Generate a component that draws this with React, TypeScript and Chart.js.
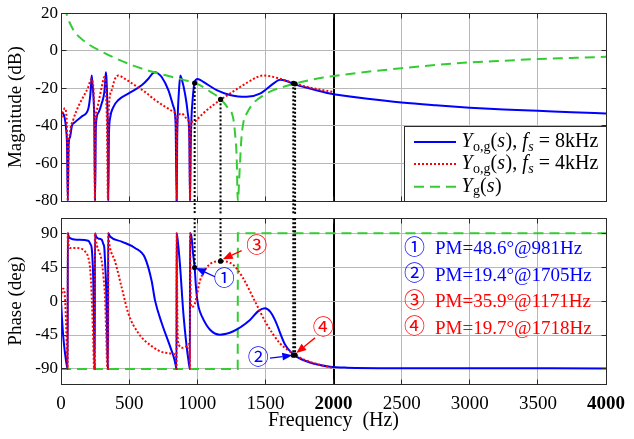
import React, { useEffect, useRef } from 'react';
import { Chart, registerables } from 'chart.js';

Chart.register(...registerables);

const FONT = '"Liberation Serif", "Times New Roman", Times, serif';
const CIRC_FONT = '"Liberation Serif", "Noto Sans CJK JP", "DejaVu Sans", serif';

// ---------- Magnitude (dB) ----------
const magBlueFreq = [0,5,12,20,30,38,44,50,56,66,80,103,152,200,213,220,225,230,237,244,250,256,274,299,318,326,330,334,338,343,347,352,360,384,421,494,592,641,670,690,710,739,788,825,841,849,853,858,866,876,886,910,930,942,947,952,958,964,978,990,1003,1045,1143,1240,1300,1363,1460,1558,1607,1656,1717,1827,1974,2000,2250,2500,2750,3000,3250,3500,3750,4000];
const magBlueVal = [-34,-33,-33,-34,-37,-42,-50,-80,-50,-46,-40,-38,-35,-31,-25,-19,-13.2,-17,-23,-37,-80,-40,-33,-28,-22,-15,-11.4,-15,-23,-40,-80,-45,-36,-30,-26.2,-22.8,-18.4,-14.9,-12.2,-11.4,-12,-14,-21,-29.7,-38.5,-80,-45,-32,-21,-13.2,-15,-22.8,-33,-47,-80,-52,-35,-28,-17.5,-15.5,-15,-16.6,-21,-23.6,-24.3,-24.5,-22.8,-17.5,-15.4,-16.1,-17.9,-20.1,-22.8,-23.1,-25.5,-27.5,-29,-30.3,-31.3,-32,-32.8,-33.4];

const magRedFreq = [0,8,17,28,36,42,47,50,55,66,90,127,164,200,215,225,233,240,245,249,254,262,274,299,318,325,330,337,345,349,352,372,396,421,470,543,616,690,763,825,841,846,849,852,861,886,922,937,943,947,951,959,983,1000,1045,1118,1174,1240,1314,1387,1440,1485,1530,1583,1681,1717,1827,1910,2000];
const magRedVal = [-37.6,-34,-32,-30.6,-32,-38,-55,-80,-55,-43.7,-36.7,-29.7,-24.5,-19.3,-16,-14.9,-17,-22.8,-40,-80,-38,-32,-28,-19.3,-14,-16,-22.8,-38,-80,-40,-29.7,-21,-15,-13.2,-15,-18.4,-21.9,-26.2,-29.7,-32.4,-35,-50,-80,-45,-35,-33.4,-36,-38,-50,-80,-50,-38,-37.6,-36.5,-33.2,-28.9,-25.9,-22.8,-19.3,-16.1,-14,-13.2,-13.5,-14.4,-16.6,-17.5,-19.6,-20.8,-22];

const magGreenFreq = [30,40,55,70,100,140,200,286,400,530,650,776,900,996,1100,1167,1220,1264,1277,1289,1298,1312,1325,1338,1370,1411,1480,1558,1640,1717,1820,1925,2000,2250,2500,2750,3000,3250,3500,3750,4000];
const magGreenVal = [24,20,16.5,14,10,7,3.5,0,-4,-7.9,-10.8,-13.2,-15.5,-17.5,-22,-25.4,-30,-36,-43.7,-56,-80,-62,-46,-38.5,-32.5,-28,-24,-21,-19,-17.5,-15.7,-14.2,-13.5,-11.2,-9.3,-7.6,-6.2,-5.3,-4.4,-3.8,-3.2];

// ---------- Phase (deg) ----------
const phBlueFreq = [0,8,18,30,42,49,50,56,66,120,200,215,225,232,237,241,245,248,249,257,274,299,310,318,325,330,336,341,345,346,360,445,543,616,665,690,739,800,832,845,848,849,860,873,898,922,935,946,947,958,968,981,990,998,1010,1035,1094,1167,1265,1387,1450,1497,1535,1570,1644,1700,1712,1827,1974,2100,2500,4000];
const phBlueVal = [0,-25,-50,-70,-85,-90,90,86,83.5,81.5,80,76,70.5,52,27,-20,-70,-90,90,86,83,81.4,76,70.5,45,27,-20,-70,-90,90,85.7,79,70.5,57.5,27,1,-29,-59.7,-77,-88,-90,90,75,48.8,-16,-60,-78,-90,90,85,65,44.5,20,5,-8,-20.6,-38,-44.5,-40,-25,-13,-9.5,-14,-25,-57.5,-70,-72,-81.4,-87,-88.3,-89,-89.3];

const phRedFreq = [0,8,16,24,32,40,47,49,50,55,66,115,176,200,213,222,230,237,243,248,249,255,262,299,312,323,332,340,346,347,352,360,396,445,494,567,665,763,836,845,848,849,852,856,865,890,920,938,944,946,947,950,953,960,983,1020,1069,1110,1171,1260,1333,1420,1506,1604,1712,1802,1925,2000];
const phRedVal = [5,12,16.5,14,-5,-45,-85,-90,90,76,70.5,70.5,66,58,44.5,20,-16,-55,-90,-90,90,82,74.8,53,32,5.5,-45,-90,-90,90,80,70.5,53,18.4,-16.3,-42.3,-59.7,-68.4,-70.6,-75,-90,90,20,-45,-58,-62,-60,-57,-70,-90,90,30,-5,-8,-3,27,44.5,51,53,48.8,31.5,1,-29.3,-55.4,-70.6,-79,-85.7,-89];

const phGreenFreq = [0,1297,1298,4000];
const phGreenVal = [-90,-90,90,90];

// ---------- Axes ----------
const freqMin = 0, freqMax = 4000, freqStep = 500;
const boldFreqTicks = [2000, 4000];
const magMin = -80, magMax = 20, magStep = 20;
const phaseMin = -110, phaseMax = 110;
const phaseTicks = [-90, -45, 0, 45, 90];

// ---------- Crossover markers & annotations ----------
const crossFreq = [981, 1171, 1705, 1718];
const crossMag = [-17.2, -25.9, -17.3, -17.6];
const crossPhase = [44.5, 53, -71.8, -71.5];

const markLabels = ['①', '②', '③', '④'];
const markColors = ['#0000ff', '#0000ff', '#ff0000', '#ff0000'];
const markLabelFreq = [1198, 1448, 1436, 1925];
const markLabelPhase = [28.4, -75.8, 72.6, -35.8];
const arrowFromFreq = [1130, 1534, 1326, 1864];
const arrowFromPhase = [32.3, -75.8, 67, -48.8];
const arrowToFreq = [990, 1698, 1187, 1727];
const arrowToPhase = [44, -72, 55.5, -69];
const pmTexts = ['PM=48.6°@981Hz', 'PM=19.4°@1705Hz', 'PM=35.9°@1171Hz', 'PM=19.7°@1718Hz'];

const BLUE = '#0000ff';
const RED = '#ff0000';
const GREEN = '#33cc33';
const GRID = '#b8b8b8';
const FRAME = '#2a2a2a';

const toXY = (f: number[], v: number[]) => f.map((x, i) => ({ x, y: v[i] }));

const al = (p: number) => Math.round(p - 0.5) + 0.5;

function drawFrame(chart: any) {
  const { ctx, chartArea, scales } = chart;
  const L = al(chartArea.left), R = al(chartArea.right), T = al(chartArea.top), B = al(chartArea.bottom);
  ctx.save();
  ctx.setLineDash([]);
  ctx.strokeStyle = FRAME;
  ctx.lineWidth = 1;
  ctx.strokeRect(L, T, R - L, B - T);
  const tl = 5;
  ctx.beginPath();
  scales.x.ticks.forEach((t: any) => {
    const px = al(scales.x.getPixelForValue(t.value));
    ctx.moveTo(px, B); ctx.lineTo(px, B - tl);
    ctx.moveTo(px, T); ctx.lineTo(px, T + tl);
  });
  scales.y.ticks.forEach((t: any) => {
    const py = al(scales.y.getPixelForValue(t.value));
    ctx.moveTo(L, py); ctx.lineTo(L + tl, py);
    ctx.moveTo(R, py); ctx.lineTo(R - tl, py);
  });
  ctx.stroke();
  ctx.restore();
}

function drawRich(ctx: CanvasRenderingContext2D, x: number, y: number, parts: [string, boolean, boolean][]) {
  let cx = x;
  parts.forEach(([t, italic, sub]) => {
    ctx.font = `${italic ? 'italic ' : ''}${sub ? 14 : 20}px ${FONT}`;
    ctx.fillText(t, cx, sub ? y + 5 : y);
    cx += ctx.measureText(t).width + (italic && !sub ? 0.5 : 0);
  });
}

const legendRows: { color: string; dash: number[]; parts: [string, boolean, boolean][] }[] = [
  { color: BLUE, dash: [], parts: [['Y', true, false], ['o,g', false, true], ['(', false, false], ['s', true, false], ['), ', false, false], ['f', true, false], ['s', true, true], [' = 8kHz', false, false]] },
  { color: RED, dash: [2, 2], parts: [['Y', true, false], ['o,g', false, true], ['(', false, false], ['s', true, false], ['), ', false, false], ['f', true, false], ['s', true, true], [' = 4kHz', false, false]] },
  { color: GREEN, dash: [10, 6], parts: [['Y', true, false], ['g', false, true], ['(', false, false], ['s', true, false], [')', false, false]] },
];

const magPlugin = {
  id: 'magDecor',
  afterDraw(chart: any) {
    drawFrame(chart);
    const { ctx, chartArea, scales } = chart;
    ctx.save();
    ctx.strokeStyle = '#000';
    ctx.lineWidth = 2;
    ctx.setLineDash([2, 2]);
    crossFreq.forEach((f, i) => {
      const px = scales.x.getPixelForValue(f);
      const py = scales.y.getPixelForValue(crossMag[i]);
      ctx.beginPath();
      ctx.moveTo(px, py);
      ctx.lineTo(px, chart.height);
      ctx.stroke();
    });
    ctx.setLineDash([]);
    ctx.fillStyle = '#000';
    crossFreq.forEach((f, i) => {
      ctx.beginPath();
      ctx.arc(scales.x.getPixelForValue(f), scales.y.getPixelForValue(crossMag[i]), 2.6, 0, Math.PI * 2);
      ctx.fill();
    });
    const bx = Math.round(chartArea.right) - 202;
    const by = Math.round(chartArea.bottom) - 75;
    ctx.fillStyle = '#fff';
    ctx.fillRect(bx, by, 202, 75);
    ctx.strokeStyle = FRAME;
    ctx.lineWidth = 1;
    ctx.strokeRect(bx + 0.5, by + 0.5, 202, 75);
    const rowY = [16, 38, 60.7];
    legendRows.forEach((row, i) => {
      const y = by + rowY[i];
      ctx.strokeStyle = row.color;
      ctx.lineWidth = 2;
      ctx.setLineDash(row.dash);
      ctx.beginPath();
      ctx.moveTo(bx + 10, y);
      ctx.lineTo(bx + 52, y);
      ctx.stroke();
      ctx.setLineDash([]);
      ctx.fillStyle = '#000';
      ctx.textBaseline = 'middle';
      ctx.textAlign = 'left';
      drawRich(ctx, bx + 57.5, y, row.parts);
    });
    ctx.restore();
  },
};

function drawArrow(ctx: CanvasRenderingContext2D, x1: number, y1: number, x2: number, y2: number, color: string) {
  const ang = Math.atan2(y2 - y1, x2 - x1);
  const c = Math.cos(ang), s = Math.sin(ang);
  const L = 10, W = 4;
  ctx.strokeStyle = color;
  ctx.fillStyle = color;
  ctx.lineWidth = 1.3;
  ctx.setLineDash([]);
  ctx.beginPath();
  ctx.moveTo(x1, y1);
  ctx.lineTo(x2 - L * c, y2 - L * s);
  ctx.stroke();
  ctx.beginPath();
  ctx.moveTo(x2, y2);
  ctx.lineTo(x2 - L * c + W * s, y2 - L * s - W * c);
  ctx.lineTo(x2 - L * c - W * s, y2 - L * s + W * c);
  ctx.closePath();
  ctx.fill();
}

const phasePlugin = {
  id: 'phaseDecor',
  afterDraw(chart: any) {
    drawFrame(chart);
    const { ctx, chartArea, scales } = chart;
    ctx.save();
    ctx.strokeStyle = '#000';
    ctx.lineWidth = 2;
    ctx.setLineDash([2, 2]);
    crossFreq.forEach((f, i) => {
      const px = scales.x.getPixelForValue(f);
      const py = scales.y.getPixelForValue(crossPhase[i]);
      ctx.beginPath();
      ctx.moveTo(px, chartArea.top);
      ctx.lineTo(px, py);
      ctx.stroke();
    });
    ctx.setLineDash([]);
    ctx.fillStyle = '#000';
    crossFreq.forEach((f, i) => {
      ctx.beginPath();
      ctx.arc(scales.x.getPixelForValue(f), scales.y.getPixelForValue(crossPhase[i]), 2.6, 0, Math.PI * 2);
      ctx.fill();
    });
    markLabels.forEach((lab, i) => {
      drawArrow(
        ctx,
        scales.x.getPixelForValue(arrowFromFreq[i]), scales.y.getPixelForValue(arrowFromPhase[i]),
        scales.x.getPixelForValue(arrowToFreq[i]), scales.y.getPixelForValue(arrowToPhase[i]),
        markColors[i],
      );
      ctx.font = `21px ${CIRC_FONT}`;
      ctx.fillStyle = markColors[i];
      ctx.textAlign = 'center';
      ctx.textBaseline = 'middle';
      ctx.fillText(lab, scales.x.getPixelForValue(markLabelFreq[i]), scales.y.getPixelForValue(markLabelPhase[i]));
    });
    const x0 = chartArea.right - 202;
    const y0 = chartArea.top + 30;
    markLabels.forEach((lab, i) => {
      const y = y0 + i * 26.5;
      ctx.fillStyle = markColors[i];
      ctx.textAlign = 'left';
      ctx.textBaseline = 'middle';
      ctx.font = `21px ${CIRC_FONT}`;
      ctx.fillText(lab, x0, y);
      ctx.font = `19px ${FONT}`;
      ctx.fillText(pmTexts[i], x0 + 31, y + 1);
    });
    ctx.restore();
  },
};

const xGridColor = (c: any) => (c.tick && c.tick.value === 2000 ? '#000' : GRID);
const xGridWidth = (c: any) => (c.tick && c.tick.value === 2000 ? 2 : 1);

const lineDs = (label: string, data: any[], color: string, dash: number[], smooth = true) => ({
  label,
  data,
  borderColor: color,
  backgroundColor: color,
  borderWidth: 2,
  borderDash: dash,
  pointRadius: 0,
  fill: false,
  tension: 0,
  cubicInterpolationMode: smooth ? ('monotone' as const) : ('default' as const),
});

export default function App() {
  const refA = useRef<HTMLCanvasElement>(null);
  const refB = useRef<HTMLCanvasElement>(null);

  useEffect(() => {
    const magChart = new Chart(refA.current as HTMLCanvasElement, {
      type: 'line',
      data: {
        datasets: [
          lineDs('Yog 4kHz', toXY(magRedFreq, magRedVal), RED, [2, 2]),
          lineDs('Yg', toXY(magGreenFreq, magGreenVal), GREEN, [10, 6]),
          lineDs('Yog 8kHz', toXY(magBlueFreq, magBlueVal), BLUE, []),
        ] as any,
      },
      options: {
        responsive: false,
        animation: false,
        events: [],
        layout: { padding: { left: 0, right: 28, top: 10, bottom: 0 } },
        plugins: { legend: { display: false }, tooltip: { enabled: false } },
        scales: {
          x: {
            type: 'linear',
            min: freqMin,
            max: freqMax,
            ticks: { stepSize: freqStep, display: false },
            grid: { color: xGridColor, lineWidth: xGridWidth, drawTicks: false },
            border: { display: false },
            afterFit: (s: any) => { s.height = 14; },
          },
          y: {
            type: 'linear',
            min: magMin,
            max: magMax,
            ticks: { stepSize: magStep, color: '#000', padding: 3, font: { family: FONT, size: 17 }, callback: (v: any) => String(v) },
            grid: { color: GRID, drawTicks: false },
            border: { display: false },
            title: { display: true, text: 'Magnitude (dB)', color: '#000', font: { family: FONT, size: 19 }, padding: { top: 5, bottom: 0 } },
            afterFit: (s: any) => { s.width = 61; },
          },
        },
      } as any,
      plugins: [magPlugin],
    });

    const phaseChart = new Chart(refB.current as HTMLCanvasElement, {
      type: 'line',
      data: {
        datasets: [
          lineDs('Yog 4kHz', toXY(phRedFreq, phRedVal), RED, [2, 2]),
          lineDs('Yog 8kHz', toXY(phBlueFreq, phBlueVal), BLUE, []),
          lineDs('Yg', toXY(phGreenFreq, phGreenVal), GREEN, [10, 6], false),
        ] as any,
      },
      options: {
        responsive: false,
        animation: false,
        events: [],
        layout: { padding: { left: 0, right: 28, top: 10, bottom: 0 } },
        plugins: { legend: { display: false }, tooltip: { enabled: false } },
        scales: {
          x: {
            type: 'linear',
            min: freqMin,
            max: freqMax,
            ticks: {
              stepSize: freqStep,
              color: '#000',
              padding: 9,
              maxRotation: 0,
              autoSkip: false,
              callback: (v: any) => String(v),
              font: (c: any) => ({ family: FONT, size: 19, weight: c.tick && boldFreqTicks.includes(c.tick.value) ? 'bold' : 'normal' }),
            },
            grid: { color: xGridColor, lineWidth: xGridWidth, drawTicks: false },
            border: { display: false },
            title: { display: true, text: 'Frequency  (Hz)', color: '#000', font: { family: FONT, size: 20 }, padding: { top: 0, bottom: 6 } },
            afterFit: (s: any) => { s.height = 55; },
          },
          y: {
            type: 'linear',
            min: phaseMin,
            max: phaseMax,
            afterBuildTicks: (s: any) => { s.ticks = phaseTicks.map((v) => ({ value: v })); },
            ticks: { color: '#000', padding: 3, font: { family: FONT, size: 17 }, callback: (v: any) => String(v) },
            grid: { color: GRID, drawTicks: false },
            border: { display: false },
            title: { display: true, text: 'Phase (deg)', color: '#000', font: { family: FONT, size: 19 }, padding: { top: 5, bottom: 0 } },
            afterFit: (s: any) => { s.width = 61; },
          },
        },
      } as any,
      plugins: [phasePlugin],
    });

    return () => {
      magChart.destroy();
      phaseChart.destroy();
    };
  }, []);

  return (
    <div style={{ position: 'absolute', left: 0, top: 0, width: 634, height: 439, background: '#fff', overflow: 'hidden' }}>
      <canvas ref={refA} width={634} height={215} style={{ position: 'absolute', left: 0, top: 0, width: 634, height: 215 }} />
      <canvas ref={refB} width={634} height={234} style={{ position: 'absolute', left: 0, top: 205, width: 634, height: 234 }} />
    </div>
  );
}
